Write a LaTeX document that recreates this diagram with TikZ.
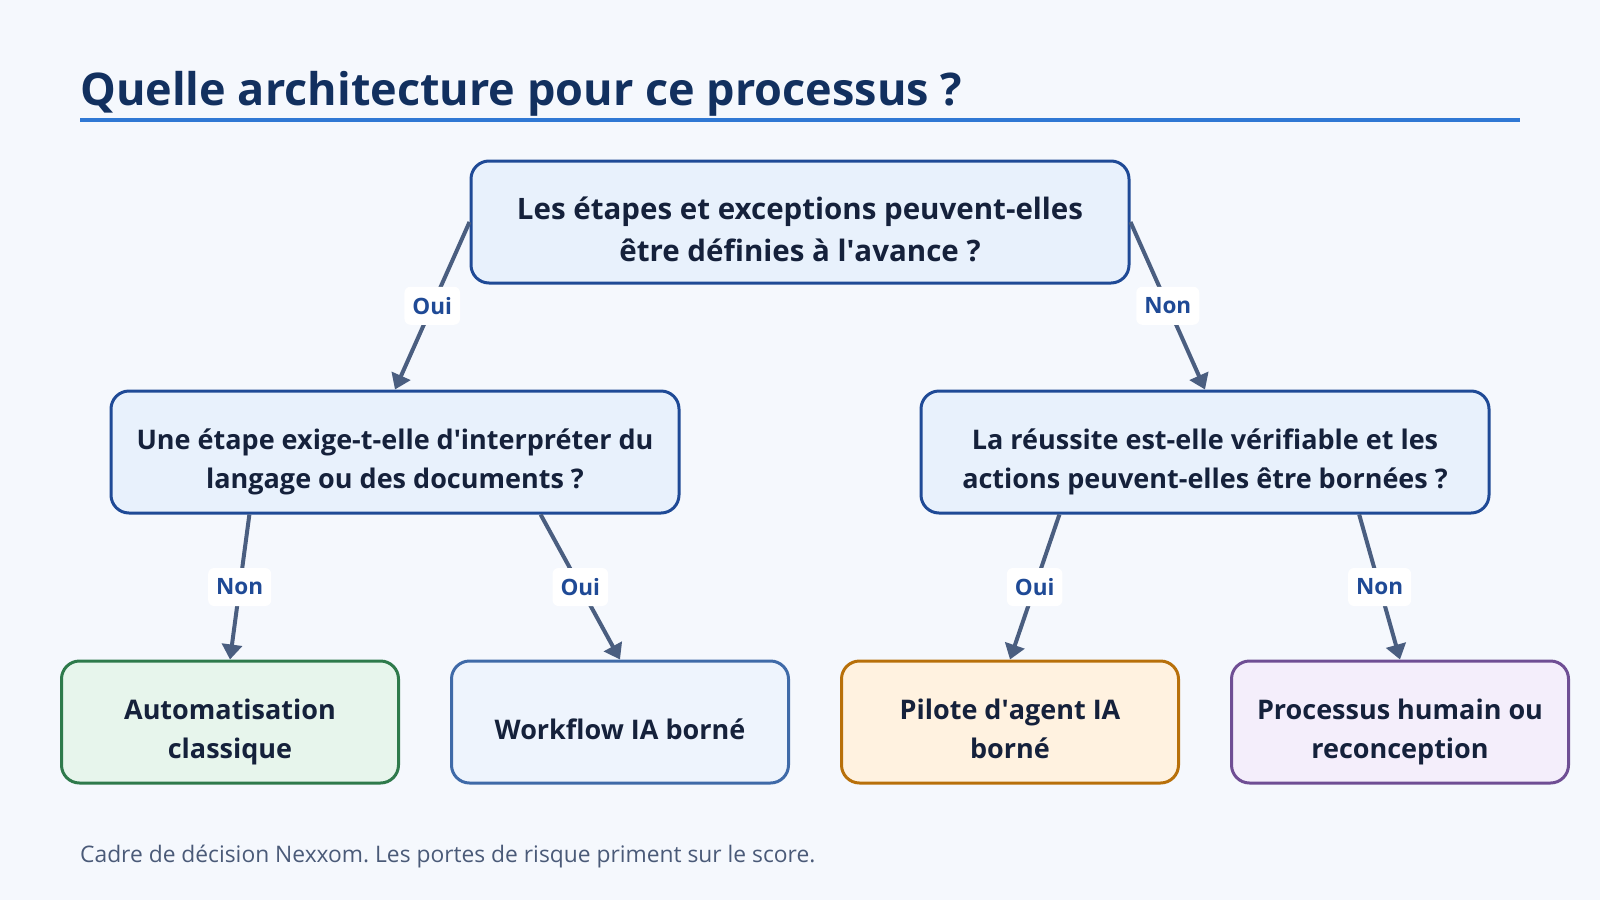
\documentclass[tikz,border=0pt]{standalone}
\usepackage{fontspec}
\setmainfont{Open Sans}
\usepackage{tikz}
\usetikzlibrary{arrows.meta,calc}
\frenchspacing

\definecolor{bgpage}{HTML}{F5F8FD}
\definecolor{titleblue}{HTML}{12305F}
\definecolor{ruleblue}{HTML}{2F78D4}
\definecolor{qborder}{HTML}{1F4A96}
\definecolor{qfill}{HTML}{E8F1FC}
\definecolor{inktext}{HTML}{15213B}
\definecolor{arrowgray}{HTML}{4A5E80}
\definecolor{greenline}{HTML}{2E7A4B}
\definecolor{greenfill}{HTML}{E7F5EC}
\definecolor{blueline}{HTML}{3F6AA8}
\definecolor{bluefill}{HTML}{EEF4FD}
\definecolor{orangeline}{HTML}{B8700A}
\definecolor{orangefill}{HTML}{FFF2E0}
\definecolor{purpleline}{HTML}{6F4E94}
\definecolor{purplefill}{HTML}{F4EEFB}
\definecolor{footgray}{HTML}{4A5A78}

\newcommand{\apos}{\textquotesingle}
\newcommand{\lift}{\rule{0pt}{40pt}}

\tikzset{
  box/.style={draw, line width=3pt, rounded corners=18pt, align=center,
    text=inktext, font=\fontsize{27}{39}\selectfont\bfseries,
    minimum height=122pt, inner sep=0pt},
  question/.style={box, draw=qborder, fill=qfill},
  answer/.style={box, minimum width=337pt},
  flow/.style={draw=arrowgray, line width=4pt,
    -{Triangle[width=20pt,length=15pt]}},
  lbl/.style={fill=white, rounded corners=6pt, text=qborder,
    font=\fontsize{22.5}{24}\selectfont\bfseries, inner xsep=8pt,
    minimum height=38pt, pos=0.5}
}

\begin{document}
\begin{tikzpicture}[x=1pt,y=-1pt]
  \useasboundingbox[fill=bgpage] (0,0) rectangle (1600,900);
  \node[anchor=base west, inner sep=0pt, text=titleblue, font=\fontsize{45}{50}\selectfont\bfseries]
    (title) at (80,105) {Quelle architecture pour ce processus ?};
  \draw[ruleblue, line width=4pt] (80,120) -- (1520,120);

  \node[question, minimum width=658pt, font=\fontsize{29.5}{41.5}\selectfont\bfseries] (top) at (800,222)
    {\rule{0pt}{37pt}Les étapes et exceptions peuvent-elles\\être définies à l\apos avance ?};
  \node[question, minimum width=568pt] (qleft) at (395,452)
    {\lift Une étape exige-t-elle d\apos interpréter du\\langage ou des documents ?};
  \node[question, minimum width=568pt] (qright) at (1205,452)
    {\lift La réussite est-elle vérifiable et les\\actions peuvent-elles être bornées ?};

  \node[answer, draw=greenline, fill=greenfill] (classic) at (230,722)
    {\lift Automatisation\\classique};
  \node[answer, draw=blueline, fill=bluefill] (workflow) at (620,722)
    {\rule{0pt}{36pt}Workflow IA borné};
  \node[answer, draw=orangeline, fill=orangefill] (agent) at (1010,722)
    {\rule{0pt}{34pt}Pilote d\apos agent IA\\borné};
  \node[answer, draw=purpleline, fill=purplefill] (human) at (1400,722)
    {\lift Processus humain ou\\reconception};

  \draw[flow] (top.west) -- (qleft.north) node[lbl] {Oui};
  \draw[flow] (top.east) -- (qright.north) node[lbl] {Non};
  \draw[flow] ($(qleft.south west)!.245!(qleft.south east)$) -- (classic.north) node[lbl] {Non};
  \draw[flow] ($(qleft.south west)!.755!(qleft.south east)$) -- (workflow.north) node[lbl] {Oui};
  \draw[flow] ($(qright.south west)!.245!(qright.south east)$) -- (agent.north) node[lbl] {Oui};
  \draw[flow] ($(qright.south west)!.77!(qright.south east)$) -- (human.north) node[lbl] {Non};

  \node[anchor=base west, inner sep=0pt, text=footgray, font=\fontsize{22.8}{26}\selectfont]
    (foot) at (80,862) {Cadre de décision Nexxom. Les portes de risque priment sur le score.};
\end{tikzpicture}
\end{document}
